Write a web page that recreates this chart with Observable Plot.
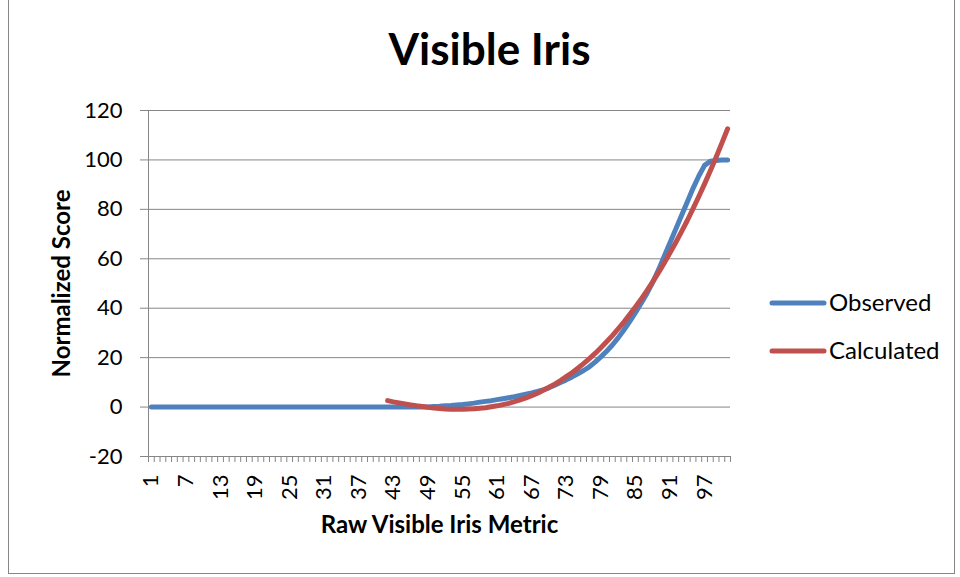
<!DOCTYPE html>
<html>
<head>
<meta charset="utf-8">
<script src="https://cdn.jsdelivr.net/npm/d3@7"></script>
<script src="https://cdn.jsdelivr.net/npm/@observablehq/plot@0.6"></script>
<style>
  body { margin: 0; background: #fff; }
  #wrap { position: relative; width: 960px; height: 577px; overflow: hidden; font-family: Lato, "DejaVu Sans", sans-serif; }
  #frame { position: absolute; left: 8px; top: -2px; width: 947px; height: 576px; border: 1.5px solid #868686; box-sizing: border-box; pointer-events: none; }
  #chart { position: absolute; left: 0; top: 0; }
  #legend { position: absolute; left: 760px; top: 280px; }
</style>
</head>
<body>
<div id="wrap">
  <div id="frame"></div>
  <div id="chart"></div>
  <div id="legend"></div>
</div>
<script>
// ---- Data ----
const chartTitle = "Visible Iris";
const xTitle = "Raw Visible Iris Metric";
const yTitle = "Normalized Score";
const seriesNames = ["Observed", "Calculated"];
const seriesColors = ["#4F81BD", "#C0504D"];

// Category indices (raw metric 1..101)
const observedX = d3.range(1, 102);
const observedY = [
  0, 0, 0, 0, 0, 0, 0, 0, 0, 0,
  0, 0, 0, 0, 0, 0, 0, 0, 0, 0,
  0, 0, 0, 0, 0, 0, 0, 0, 0, 0,
  0, 0, 0, 0, 0, 0, 0, 0, 0, 0,
  0, 0, 0, 0, 0, 0, 0, 0, 0,
  0.2, 0.3, 0.5, 0.6, 0.8, 1.0, 1.3, 1.6, 2.0, 2.3,
  2.6, 3.0, 3.4, 3.8, 4.2, 4.7, 5.2, 5.7, 6.3, 7.0,
  7.8, 8.8, 9.9, 11.0, 12.2, 13.5, 14.8, 16.3, 18.2, 20.3,
  22.6, 25.1, 28.0, 31.2, 34.6, 38.2, 42.0, 46.0, 50.5, 55.5,
  61.0, 66.5, 72.0, 77.5, 83.0, 88.5, 93.5, 97.8, 99.5, 99.8,
  100, 100
];

const calculatedX = d3.range(42, 102);
const calculatedY = [
  2.6, 2.1, 1.7, 1.3, 0.9, 0.5, 0.2, -0.1, -0.4, -0.6,
  -0.8, -0.9, -0.9, -0.9, -0.8, -0.7, -0.5, -0.3, 0.1, 0.5,
  1.0, 1.5, 2.2, 2.9, 3.7, 4.6, 5.6, 6.8, 8.0, 9.3,
  10.7, 12.3, 13.9, 15.7, 17.6, 19.6, 21.7, 24.0, 26.4, 28.9,
  31.6, 34.4, 37.4, 40.5, 43.7, 47.1, 50.7, 54.4, 58.3, 62.4,
  66.6, 71.0, 75.5, 80.3, 85.2, 90.3, 95.6, 101.1, 106.8, 112.6
];

const xTickLabels = [1, 7, 13, 19, 25, 31, 37, 43, 49, 55, 61, 67, 73, 79, 85, 91, 97];
const yTicks = [-20, 0, 20, 40, 60, 80, 100, 120];

// ---- Build tables ----
const observed = observedX.map((x, i) => ({x, y: observedY[i]}));
const calculated = calculatedX.map((x, i) => ({x, y: calculatedY[i]}));
const xBounds = d3.range(0.5, 102, 1); // category boundaries for tick marks
const grey = "#868686";

const chart = Plot.plot({
  width: 960,
  height: 577,
  marginLeft: 148,
  marginRight: 230,
  marginTop: 110,
  marginBottom: 121,
  style: { fontFamily: "Lato, 'DejaVu Sans', sans-serif", fontSize: "22px", color: "#000", background: "transparent", overflow: "visible" },
  x: { domain: [0.5, 101.5] },
  y: { domain: [-20, 120] },
  marks: [
    Plot.gridY(yTicks, { stroke: grey, strokeOpacity: 1, strokeWidth: 1 }),
    Plot.ruleX([0.5], { stroke: grey, strokeWidth: 1 }),
    Plot.ruleY([-20], { stroke: grey, strokeWidth: 1 }),
    Plot.axisY(yTicks, { tickSize: 8, tickPadding: 18, stroke: grey, label: null, fontSize: 22, tickFormat: d => String(d) }),
    Plot.axisX(xBounds, { tickSize: 6, tickFormat: () => "", stroke: grey, label: null }),
    Plot.axisX(xTickLabels, { tickSize: 0, tickRotate: -90, tickPadding: 18, label: null, fontSize: 22, tickFormat: d => String(d) }),
    Plot.line(observed, { x: "x", y: "y", stroke: seriesColors[0], strokeWidth: 5, strokeLinecap: "round", strokeLinejoin: "round" }),
    Plot.line(calculated, { x: "x", y: "y", stroke: seriesColors[1], strokeWidth: 5, strokeLinecap: "round", strokeLinejoin: "round" }),
    Plot.text([chartTitle], { text: d => d, frameAnchor: "top", textAnchor: "middle", lineAnchor: "middle", dx: 50, dy: -60, fontSize: 44, fontWeight: "bold" }),
    Plot.text([xTitle], { text: d => d, frameAnchor: "bottom", textAnchor: "middle", lineAnchor: "middle", dy: 69, fontSize: 24, fontWeight: "bold" }),
    Plot.text([yTitle], { text: d => d, frameAnchor: "left", textAnchor: "middle", lineAnchor: "middle", dx: -86, rotate: -90, fontSize: 24, fontWeight: "bold" })
  ]
});
document.getElementById("chart").appendChild(chart);

// ---- Legend ----
const legend = d3.select("#legend").append("svg").attr("width", 200).attr("height", 100)
  .style("font-family", "Lato, 'DejaVu Sans', sans-serif");
seriesNames.forEach((name, i) => {
  const g = legend.append("g").attr("transform", `translate(0, ${23 + i * 48})`);
  g.append("line").attr("x1", 12).attr("x2", 64).attr("y1", 0).attr("y2", 0)
    .attr("stroke", seriesColors[i]).attr("stroke-width", 5).attr("stroke-linecap", "round");
  g.append("text").attr("x", 69).attr("y", 0).attr("dy", "0.35em").attr("font-size", 24).text(name);
});
</script>
</body>
</html>
